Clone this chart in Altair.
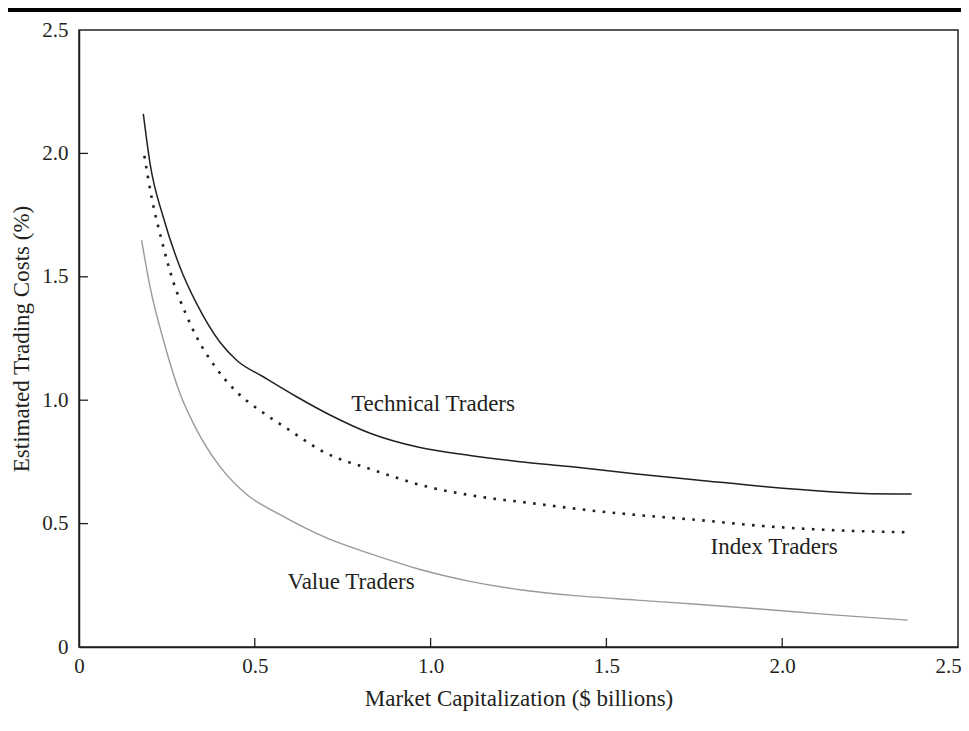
import altair as alt
import pandas as pd

# ---------------- data ----------------
tech_x = [0.183, 0.202, 0.240, 0.287, 0.335, 0.401, 0.450, 0.524, 0.619, 0.714,
          0.828, 0.970, 1.112, 1.254, 1.396, 1.586, 1.757, 1.946, 2.136, 2.250, 2.368]
tech_y = [2.160, 1.960, 1.740, 1.540, 1.390, 1.235, 1.160, 1.095, 1.014, 0.940,
          0.866, 0.808, 0.776, 0.751, 0.731, 0.701, 0.677, 0.650, 0.629, 0.621, 0.620]

index_x = [0.186, 0.207, 0.235, 0.268, 0.301, 0.339, 0.387, 0.448, 0.520, 0.591,
           0.695, 0.837, 0.989, 1.140, 1.292, 1.444, 1.586, 1.757, 1.946, 2.136, 2.349]
index_y = [1.990, 1.818, 1.649, 1.480, 1.359, 1.244, 1.136, 1.034, 0.953, 0.886,
           0.791, 0.717, 0.650, 0.609, 0.582, 0.555, 0.535, 0.515, 0.490, 0.474, 0.465]

value_x = [0.178, 0.202, 0.240, 0.287, 0.335, 0.401, 0.477, 0.572, 0.704, 0.828,
           0.970, 1.112, 1.254, 1.396, 1.586, 1.757, 1.946, 2.136, 2.357]
value_y = [1.649, 1.460, 1.244, 1.028, 0.879, 0.731, 0.618, 0.536, 0.442, 0.378,
           0.314, 0.266, 0.232, 0.210, 0.190, 0.173, 0.153, 0.131, 0.109]

label_text = ["Technical Traders", "Index Traders", "Value Traders"]
label_x = [1.007, 1.977, 0.774]
label_y = [0.985, 0.405, 0.263]

axis_values = [0, 0.5, 1.0, 1.5, 2.0, 2.5]
inner_ticks = [0.5, 1.0, 1.5, 2.0]

x_title = "Market Capitalization ($ billions)"
y_title = "Estimated Trading Costs (%)"

# ---------------- styling ----------------
W, H = 879, 617
FONT = "Liberation Serif"
INK = "#231f20"
LABEL_EXPR = "datum.value == 0 ? '0' : format(datum.value, '.1f')"

x_scale = alt.Scale(domain=[0, 2.5], nice=False, zero=False)
y_scale = alt.Scale(domain=[0, 2.5], nice=False, zero=False)

x_axis = alt.Axis(values=axis_values, title=x_title, labelExpr=LABEL_EXPR,
                  labelPadding=8, titlePadding=11, labelFlush=False,
                  labelOffset={"condition": {"test": "datum.value == 2.5", "value": -10},
                               "value": 0})
y_axis = alt.Axis(values=axis_values, title=y_title, labelExpr=LABEL_EXPR,
                  labelPadding=11, titlePadding=8, labelFlush=False)


def xy():
    return dict(
        x=alt.X("x:Q", scale=x_scale, axis=x_axis),
        y=alt.Y("y:Q", scale=y_scale, axis=y_axis),
    )


tech = alt.Chart(pd.DataFrame({"x": tech_x, "y": tech_y})).mark_line(
    interpolate="monotone", color=INK, strokeWidth=1.5
).encode(**xy())

index = alt.Chart(pd.DataFrame({"x": index_x, "y": index_y})).mark_line(
    interpolate="monotone", color=INK, strokeWidth=2.6, strokeDash=[2.6, 7.4],
    strokeCap="butt"
).encode(**xy())

value = alt.Chart(pd.DataFrame({"x": value_x, "y": value_y})).mark_line(
    interpolate="monotone", color="#9a9a9a", strokeWidth=1.4
).encode(**xy())

labels = alt.Chart(pd.DataFrame({"t": label_text, "x": label_x, "y": label_y})).mark_text(
    font=FONT, fontSize=23, color=INK, align="center", baseline="middle"
).encode(x=alt.X("x:Q", scale=x_scale, axis=x_axis),
         y=alt.Y("y:Q", scale=y_scale, axis=y_axis), text="t:N")

ticks_df = pd.DataFrame({"v": inner_ticks})
x_ticks = alt.Chart(ticks_df).mark_rule(color=INK, strokeWidth=1.3).encode(
    x=alt.X("v:Q", scale=x_scale, axis=x_axis), y=alt.value(H), y2=alt.value(H - 9)
)
y_ticks = alt.Chart(ticks_df).mark_rule(color=INK, strokeWidth=1.3).encode(
    y=alt.Y("v:Q", scale=y_scale, axis=y_axis), x=alt.value(0), x2=alt.value(9)
)

top_bar = alt.Chart(ticks_df.head(1)).mark_rule(color="black", strokeWidth=4).encode(
    x=alt.value(-71), x2=alt.value(882), y=alt.value(-20)
)

chart = alt.layer(value, index, tech, labels, x_ticks, y_ticks, top_bar).properties(
    width=W, height=H,
    autosize=alt.AutoSizeParams(type="none"),
    padding={"left": 71, "top": 22, "right": 3, "bottom": 76},
).configure_view(
    stroke=INK, strokeWidth=1.5
).configure_axis(
    grid=False, ticks=False, tickSize=0, domainColor=INK, domainWidth=1.5,
    labelFont=FONT, labelFontSize=21, labelColor=INK,
    titleFont=FONT, titleFontSize=23, titleFontWeight="normal", titleColor=INK,
)

chart.save("out.html", embed_options={"renderer": "svg", "actions": False})
